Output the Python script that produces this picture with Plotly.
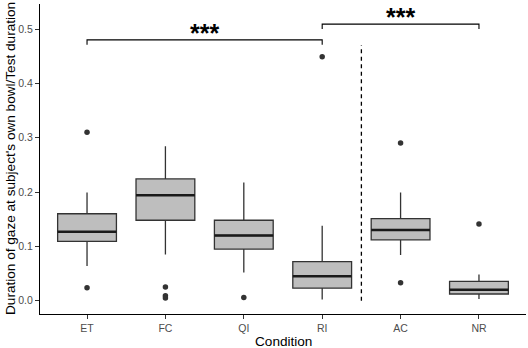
import plotly.graph_objects as go

# ---- data ----
categories = ["ET", "FC", "QI", "RI", "AC", "NR"]
q1 = [0.109, 0.148, 0.095, 0.023, 0.112, 0.0123]
median = [0.127, 0.194, 0.120, 0.045, 0.130, 0.020]
q3 = [0.160, 0.224, 0.148, 0.072, 0.151, 0.0355]
lower_whisker = [0.064, 0.085, 0.052, 0.002, 0.084, 0.003]
upper_whisker = [0.199, 0.284, 0.2175, 0.138, 0.199, 0.048]
outlier_cat = ["ET", "ET", "FC", "FC", "FC", "QI", "RI", "AC", "AC", "NR"]
outlier_val = [0.310, 0.024, 0.025, 0.009, 0.005, 0.006, 0.449, 0.290, 0.033, 0.141]

# significance brackets: (from, to, top, tip, label_y)
bracket_from = ["ET", "RI"]
bracket_to = ["RI", "NR"]
bracket_top = [0.480, 0.509]
bracket_tip = [0.471, 0.500]
bracket_label = ["***", "***"]
bracket_label_y = [0.500, 0.529]

separator_after = "RI"
separator_y = [0.0, 0.470]

y_ticks = [0.0, 0.1, 0.2, 0.3, 0.4, 0.5]

# ---- figure ----
pos = {c: i for i, c in enumerate(categories)}
BOX_W = 0.75
LINE = "#333333"
FILL = "#BEBEBE"

fig = go.Figure()

for c, a, m, b, lo, hi in zip(categories, q1, median, q3, lower_whisker, upper_whisker):
    fig.add_trace(go.Box(
        x=[pos[c]], q1=[a], median=[m], q3=[b], lowerfence=[lo], upperfence=[hi],
        width=BOX_W, whiskerwidth=0, boxpoints=False,
        fillcolor=FILL, line=dict(color=LINE, width=1.3),
        showlegend=False, hoverinfo="skip",
    ))
    # thicker median (ggplot fatten)
    fig.add_trace(go.Scatter(
        x=[pos[c] - BOX_W / 2, pos[c] + BOX_W / 2], y=[m, m],
        mode="lines", line=dict(color="#1a1a1a", width=2.6),
        showlegend=False, hoverinfo="skip",
    ))

fig.add_trace(go.Scatter(
    x=[pos[c] for c in outlier_cat], y=outlier_val, mode="markers",
    marker=dict(color=LINE, size=5.5, line=dict(width=0)),
    showlegend=False, hoverinfo="skip",
))

for f, t, top, tip, lab, ly in zip(bracket_from, bracket_to, bracket_top,
                                   bracket_tip, bracket_label, bracket_label_y):
    x0, x1 = pos[f], pos[t]
    fig.add_trace(go.Scatter(
        x=[x0, x0, x1, x1], y=[tip, top, top, tip], mode="lines",
        line=dict(color="black", width=1.1),
        showlegend=False, hoverinfo="skip",
    ))
    fig.add_annotation(
        x=(x0 + x1) / 2, y=ly, text="<b>" + lab + "</b>", showarrow=False,
        xanchor="center", yanchor="middle", yshift=-4,
        font=dict(family="Liberation Sans", size=25, color="black"),
    )

sx = pos[separator_after] + 0.5
fig.add_trace(go.Scatter(
    x=[sx, sx], y=separator_y, mode="lines",
    line=dict(color="black", width=1.3, dash="4px,3.5px"),
    showlegend=False, hoverinfo="skip",
))

fig.add_annotation(
    text="Duration of gaze at subject's own bowl/Test duration",
    xref="paper", yref="paper", x=0, y=0.5, xshift=-30,
    xanchor="center", yanchor="middle", textangle=-90, showarrow=False,
    font=dict(family="Liberation Sans", size=13.6, color="black"),
)
fig.add_annotation(
    text="Condition", xref="paper", yref="paper", x=0.5, y=0, yshift=-27.7,
    xanchor="center", yanchor="middle", showarrow=False,
    font=dict(family="Liberation Sans", size=13.6, color="black"),
)

fig.update_layout(
    width=528, height=348,
    margin=dict(l=40, r=2, t=4, b=34),
    paper_bgcolor="white", plot_bgcolor="white",
    font=dict(family="Liberation Sans"),
    xaxis=dict(
        range=[-0.6, 5.6], tickvals=list(range(len(categories))), ticktext=categories,
        showline=True, linecolor="black", linewidth=1.1, mirror=False,
        ticks="outside", ticklen=4, tickcolor="#333333", tickwidth=1,
        showgrid=False, zeroline=False,
        tickfont=dict(size=10.5, color="#4D4D4D"),
    ),
    yaxis=dict(
        range=[-0.0245, 0.546], tickvals=y_ticks, tickformat=".1f",
        showline=True, linecolor="black", linewidth=1.1,
        ticks="outside", ticklen=4, tickcolor="#333333", tickwidth=1,
        showgrid=False, zeroline=False,
        tickfont=dict(size=10.5, color="#4D4D4D"),
    ),
)

fig.write_html(
    "out.html",
    config={"displayModeBar": False, "staticPlot": True},
    post_script="document.body.style.margin='0';document.body.style.padding='0';"
                "document.body.style.overflow='hidden';",
)
